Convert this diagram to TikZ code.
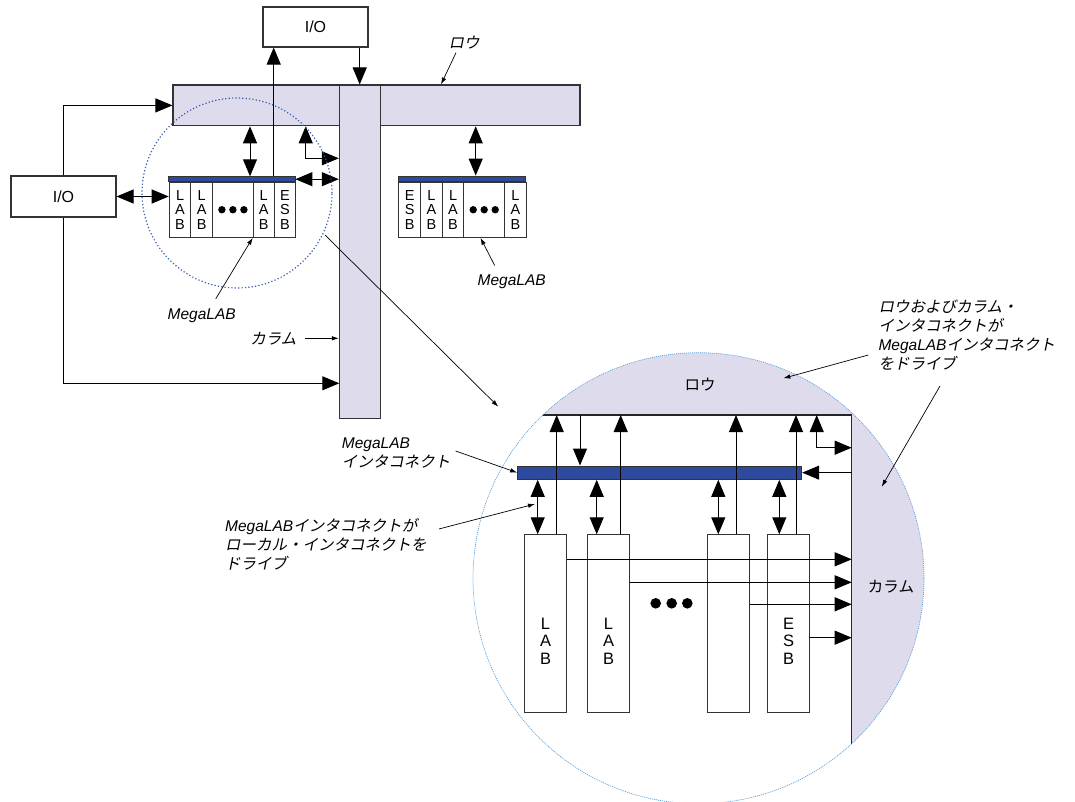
\documentclass[tikz,border=0pt]{standalone}
\usepackage{fontspec}
\setmainfont{Liberation Sans}
\newfontfamily\jpfont{Noto Sans CJK JP}
\newfontfamily\jpslant[FakeSlant=0.2]{Noto Sans CJK JP}
\usetikzlibrary{arrows.meta}
\definecolor{buslav}{RGB}{221,219,236}
\definecolor{megablue}{RGB}{46,74,156}
\definecolor{ringblue}{RGB}{55,90,175}
\definecolor{zoomblue}{RGB}{90,160,215}
\newcommand{\megalab}{{\rmfamily\itshape MegaLAB}}

\begin{document}
\begin{tikzpicture}[x=1pt, y=-1pt,
  box/.style={draw=black!80, line width=1.1pt, fill=white, inner sep=0pt},
  busbar/.style={draw=black!80, line width=1.1pt, fill=buslav, inner sep=0pt},
  strip/.style={draw=black!80, line width=0.8pt, fill=megablue, inner sep=0pt},
  cell/.style={box, anchor=north west, align=center, font=\fontsize{14.5}{14.7}\selectfont},
  celltxt/.style={align=center, inner sep=0pt, font=\fontsize{16.5}{17.5}\selectfont},
  sig/.style={line width=1pt, >={Triangle[length=17pt,width=14pt]}},
  note/.style={line width=0.7pt, -{Latex[length=7pt,width=4.5pt]}},
  lbl/.style={font=\jpslant\fontsize{15.5}{19}\selectfont, align=left, inner sep=0pt},
  tag/.style={font=\jpfont\fontsize{15.5}{19}\selectfont, inner sep=0pt}]
\useasboundingbox (0,0) rectangle (1075,802);

% --- row / column and the I/O blocks
\node[busbar, minimum width=407pt, minimum height=40.7pt] (row) at (376.5,105.4) {};
\node[busbar, minimum width=40.7pt, minimum height=333.3pt] (col) at (359.7,251.7) {};
\node[box, minimum width=105pt, minimum height=40pt, font=\fontsize{16}{18}\selectfont] (ioT) at (315.5,27) {I/O};
\node[box, minimum width=105pt, minimum height=41pt, font=\fontsize{16}{18}\selectfont] (ioL) at (63.5,196.5) {I/O};

% --- two MegaLABs
\node[strip, minimum width=126.3pt, minimum height=5pt] (mlAbar) at (231.85,179.2) {};
\foreach \n/\x/\w/\t in {a1/168.7/21.6/{L\\A\\B}, a2/190.3/21.7/{L\\A\\B}, a3/212/40.7/{}, a4/252.7/21/{L\\A\\B}, a5/273.7/21.3/{E\\S\\B}}
  \node[cell, minimum width=\w pt, minimum height=55pt] (\n) at (\x,181.7) {\t};
\foreach \d in {-11,0,11}
  \fill ([xshift=\d pt]a3.center) circle (3.7pt);

\node[strip, minimum width=127.4pt, minimum height=5.7pt] (mlBbar) at (462,178.85) {};
\foreach \n/\x/\w/\t in {b1/398.3/21.7/{E\\S\\B}, b2/420/21.7/{L\\A\\B}, b3/441.7/21.6/{L\\A\\B}, b4/463.3/40.7/{}, b5/504/21.7/{L\\A\\B}}
  \node[cell, minimum width=\w pt, minimum height=55pt] (\n) at (\x,181.7) {\t};
\foreach \d in {-11,0,11}
  \fill ([xshift=\d pt]b4.center) circle (3.7pt);

% --- connections
\coordinate (tapA) at (250,0);
\coordinate (tapB) at (305.7,158.3);
\coordinate (tapC) at (475.7,0);
\coordinate (colIn) at (339.3,383.3);
\draw[sig,->] (ioT.south -| col.north) -- (col.north);
\draw[sig,->] (a5.north west |- mlAbar.north) -- (a5.north west |- ioT.south);
\draw[sig,<->] (tapA |- row.south) -- (tapA |- mlAbar.north);
\draw[sig,<->] (tapB |- row.south) -- (tapB) -- (tapB -| col.west);
\draw[sig,<->] (mlAbar.east) -- (mlAbar.east -| col.west);
\draw[sig,<->] (ioL.east) -- (ioL.east -| a1.west);
\draw[sig,->] (ioL.north) |- (row.west);
\draw[sig,->] (ioL.south) |- (colIn);
\draw[sig,<->] (tapC |- row.south) -- (tapC |- mlBbar.north);

\coordinate (ring) at (237,193);
\draw[ringblue, line width=1.2pt, dash pattern=on 1.2pt off 2.2pt] (ring) circle (95pt);

% --- labels, upper part
\node[lbl] (rowLbl) at (464,43) {ロウ};
\draw[note] ([xshift=-8pt,yshift=-3pt]rowLbl.south) -- ([xshift=64.5pt]row.north);
\node[lbl, font=\rmfamily\itshape\fontsize{15.5}{19}\selectfont] (mlAlbl) at (201.7,316) {MegaLAB};
\draw[note] ([xshift=14pt,yshift=10pt]mlAlbl.north) -- (a4.south west);
\node[lbl, font=\rmfamily\itshape\fontsize{15.5}{19}\selectfont] (mlBlbl) at (511.7,281.7) {MegaLAB};
\draw[note] ([xshift=-17pt,yshift=9pt]mlBlbl.north) -- ([xshift=-3.7pt]b4.south);
\node[lbl] (colLbl) at (273.3,338.3) {カラム};
\draw[note] ([xshift=8pt]colLbl.east) -- (colLbl.east -| col.west);
\coordinate (zoomFrom) at (325,235);
\coordinate (zoomTo) at (498.3,406.7);
\draw[note] (zoomFrom) -- (zoomTo);

% --- magnified view
\coordinate (zc) at (698.5,578.2);
\coordinate (corner) at (851.7,415);
\fill[buslav] (zc) circle (225.5pt);
\begin{scope}
  \clip (zc) circle (225.5pt);
  \fill[white] (440,415) rectangle (851.7,820);
  \draw[line width=1.4pt, black!85] (440,415) -- (corner) -- (851.7,820);
\end{scope}
\draw[zoomblue, line width=0.7pt, dash pattern=on 1pt off 1pt] (zc) circle (225.5pt);

\node[strip, line width=1pt, minimum width=284pt, minimum height=13.3pt] (mbus) at (659.7,472.65) {};
\foreach \n/\x in {L1/524.3, L2/587.3, L3/707.3, E1/767.3}
  \node[box, anchor=north west, minimum width=41.3pt, minimum height=178pt] (\n) at (\x,534.3) {};
\node[celltxt] (L1t) at ([yshift=-17pt]L1.center) {L\\A\\B};
\node[celltxt] (L2t) at ([yshift=-17pt]L2.center) {L\\A\\B};
\node[celltxt] (E1t) at ([yshift=-17pt]E1.center) {E\\S\\B};
\foreach \d in {655.7,671.7,687.3}
  \fill (\d,603.3) circle (5.3pt);

\coordinate (busIn) at (580,415);
\draw[sig,->] (busIn) -- (busIn |- mbus.north);
\foreach \n/\u/\b in {L1/32.4/13.4, L2/33.4/9.4, L3/28.7/11, E1/28.7/12} {
  \draw[sig,->] ([xshift=\u pt]\n.north west) -- ([xshift=\u pt]\n.north west |- corner);
  \draw[sig,<->] ([xshift=\b pt]\n.north west) -- ([xshift=\b pt]\n.north west |- mbus.south);
}
\draw[sig,->] (mbus.east -| corner) -- (mbus.east);
\coordinate (fbk) at (816.7,447.7);
\draw[sig,<->] (fbk |- corner) -- (fbk) -- (fbk -| corner);
\foreach \n/\d in {L1/25, L2/48, L3/70, E1/103.4}
  \draw[sig,->] ([yshift=-\d pt]\n.north east) -- ([yshift=-\d pt]\n.north east -| corner);

% --- labels, magnified view
\node[tag] (rowZ) at (700,385) {ロウ};
\node[tag] (colZ) at (891,586.7) {カラム};
\node[lbl, anchor=west] (drvNote) at (878.3,335) {ロウおよびカラム・\\インタコネクトが\\\megalab インタコネクト\\をドライブ};
\coordinate (rowArea) at (783.3,378.3);
\coordinate (colArea) at (881.7,486.7);
\draw[note] ([xshift=-10pt,yshift=-20pt]drvNote.west) -- (rowArea);
\draw[note] (940,386) -- (colArea);
\node[lbl, anchor=west] (busNote) at (341.7,453) {\megalab\\インタコネクト};
\draw[note] ([xshift=5pt,yshift=2pt]busNote.east) -- (mbus.west);
\node[lbl, anchor=west] (lclNote) at (225,544.7) {\megalab インタコネクトが\\ローカル・インタコネクトを\\ドライブ};
\coordinate (lclTip) at (535,504);
\draw[note] ([xshift=12pt,yshift=15.7pt]lclNote.east) -- (lclTip);
\end{tikzpicture}
\end{document}
